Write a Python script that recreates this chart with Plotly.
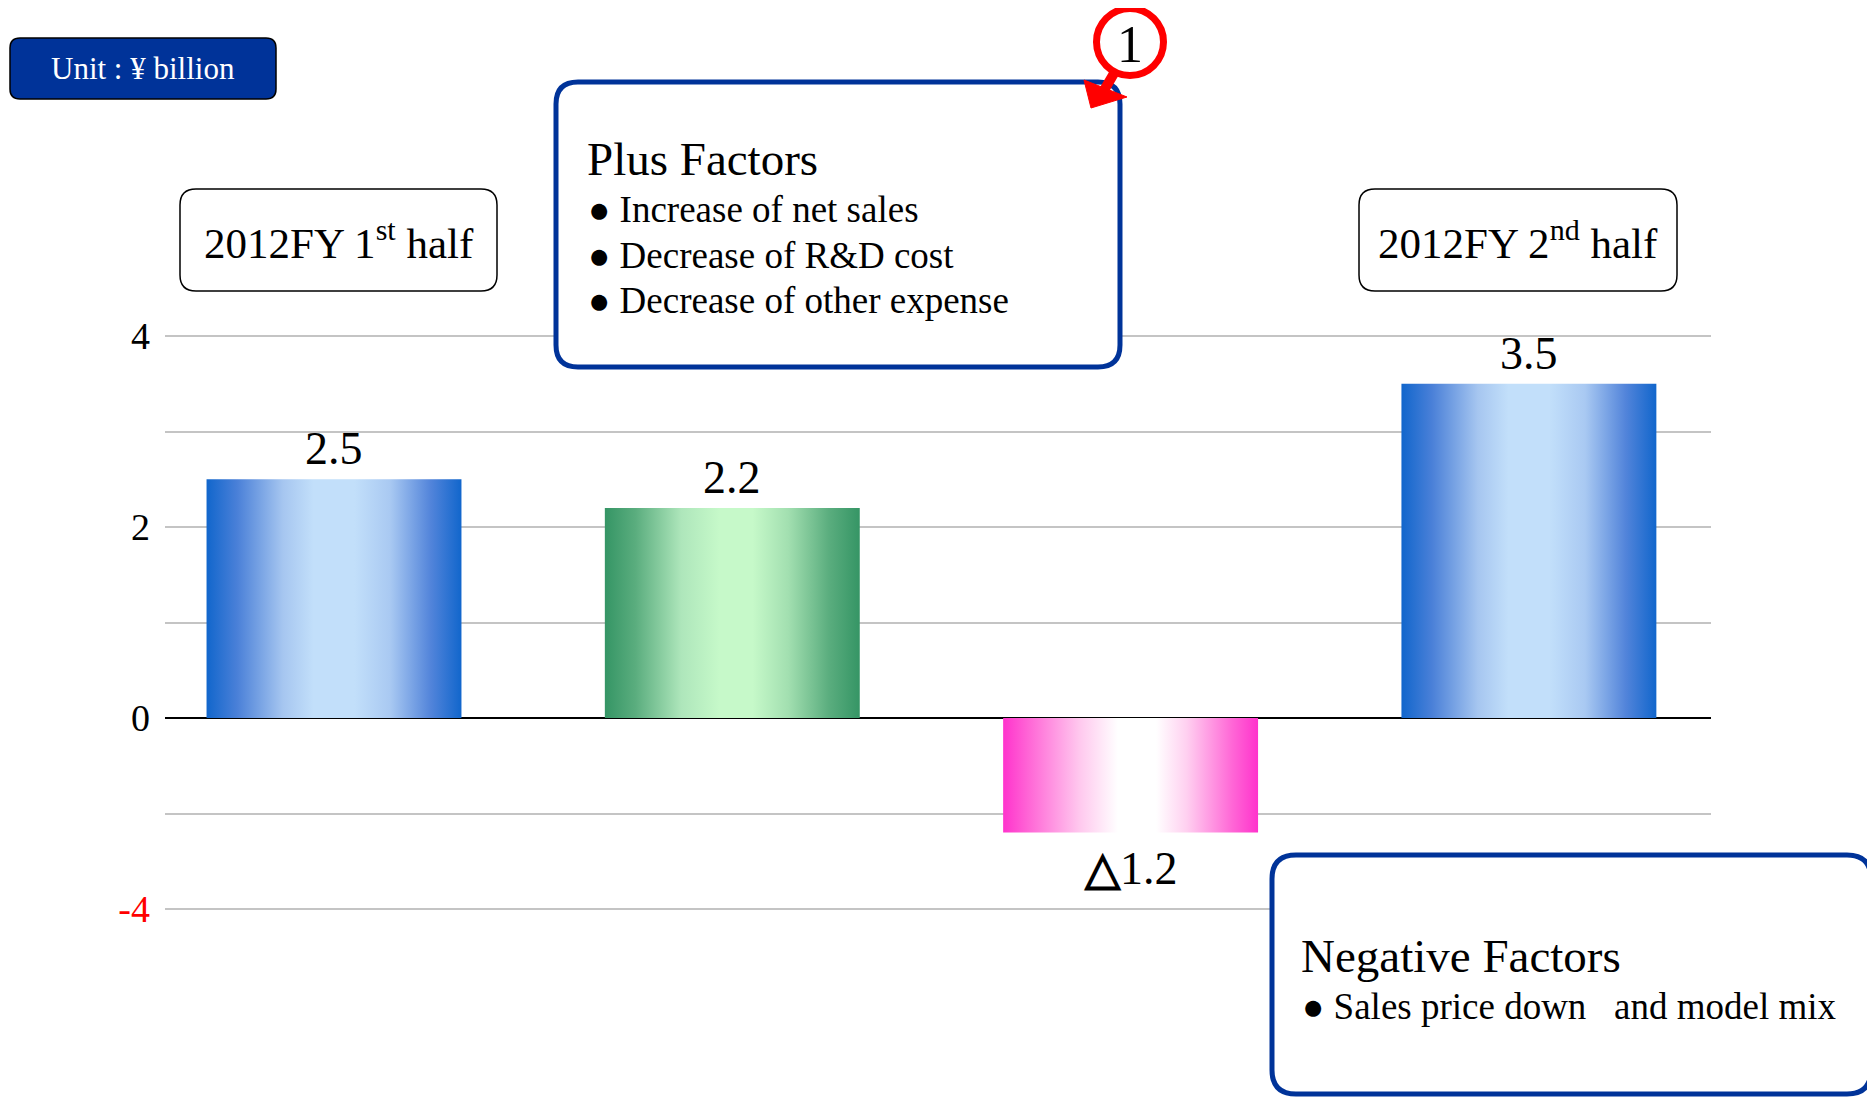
import plotly.graph_objects as go

# ---------------- data ----------------
categories = ["2012FY 1st half", "Plus factors", "Negative factors", "2012FY 2nd half"]
values = [2.5, 2.2, -1.2, 3.5]
tick_values = [-2, 0, 2, 4]
tick_labels = ["-4", "0", "2", "4"]
minor_grid_values = [-1, 1, 3]
plus_factors = ["Increase of net sales", "Decrease of R&D cost", "Decrease of other expense"]
negative_factors = ["Sales price down\u00a0\u00a0\u00a0and model mix"]

# ---------------- styles ----------------
FONT = "Liberation Serif, Times New Roman, serif"
BLUE_SCALE = [[0, '#1166cc'], [0.12, '#4a80d8'], [0.3, '#a6c6f0'], [0.42, '#c2dffa'],
              [0.58, '#c2dffa'], [0.72, '#a9c9f2'], [0.88, '#5284da'], [1, '#1166cc']]
GREEN_SCALE = [[0, '#359565'], [0.12, '#5aad7e'], [0.3, '#aee6bb'], [0.45, '#c6f9c9'],
               [0.58, '#c6f9c9'], [0.72, '#a2dfb0'], [0.88, '#5aad7e'], [1, '#359565']]
PINK_SCALE = [[0, '#ff33cc'], [0.1, '#ff66d6'], [0.3, '#ffc8ee'], [0.45, '#ffffff'],
              [0.6, '#ffffff'], [0.72, '#ffd0f0'], [0.9, '#ff66d6'], [1, '#ff33cc']]
bar_scales = [BLUE_SCALE, GREEN_SCALE, PINK_SCALE, BLUE_SCALE]
HALF_W = 0.32

W, H = 1875, 1097
OFF = 8                      # page body margin
L, T = 165, 231              # plot-area left/top in screen pixels
PW, PH = 1546, 774
ZERO_PX = 718
UNIT_PX = 95.5
X0_PX, XSTEP_PX = 334, 398.3

y_max = (ZERO_PX - T) / UNIT_PX
y_min = -(T + PH - ZERO_PX) / UNIT_PX
x_min = (L - X0_PX) / XSTEP_PX
x_max = (L + PW - X0_PX) / XSTEP_PX

m_l = L - OFF
m_t = T - OFF
m_r = W - m_l - PW
m_b = H - m_t - PH


def px(x):
    return (x - L) / PW


def py(y):
    return (T + PH - y) / PH


def rrect(x0, y0, x1, y1, r):
    pts = [
        ("M", [(x0 + r, y0)]), ("L", [(x1 - r, y0)]), ("Q", [(x1, y0), (x1, y0 + r)]),
        ("L", [(x1, y1 - r)]), ("Q", [(x1, y1), (x1 - r, y1)]), ("L", [(x0 + r, y1)]),
        ("Q", [(x0, y1), (x0, y1 - r)]), ("L", [(x0, y0 + r)]), ("Q", [(x0, y0), (x0 + r, y0)]),
    ]
    s = ""
    for cmd, ps in pts:
        s += cmd + " " + " ".join(f"{px(a):.5f},{py(b):.5f}" for a, b in ps) + " "
    return s + "Z"


def poly(points):
    return "M " + " L ".join(f"{px(a):.5f},{py(b):.5f}" for a, b in points) + " Z"


fig = go.Figure()

for i, (cat, v) in enumerate(zip(categories, values)):
    fig.add_trace(go.Scatter(
        x=[i - HALF_W, i - HALF_W, i + HALF_W, i + HALF_W, i - HALF_W],
        y=[0, v, v, 0, 0],
        mode="lines", fill="toself", line=dict(width=0),
        fillgradient=dict(type="horizontal", colorscale=bar_scales[i]),
        name=cat, hoverinfo="skip", showlegend=False,
    ))

annotations = []
for i, v in enumerate(values):
    label = f"{v}" if v >= 0 else f"<b>\u25b3</b>{abs(v)}"
    annotations.append(dict(
        x=i, y=v, xref="x", yref="y", text=label, showarrow=False,
        yanchor="bottom" if v >= 0 else "top", yshift=3 if v >= 0 else -8,
        font=dict(family=FONT, size=46, color="black"),
    ))

shapes = []
# Unit box
shapes.append(dict(type="path", xref="paper", yref="paper", path=rrect(10, 38, 276, 99, 10),
                   fillcolor="#003399", line=dict(color="black", width=1.5), layer="above"))
annotations.append(dict(x=px(143), y=py(68.5), xref="paper", yref="paper", text="Unit : ¥ billion",
                        showarrow=False, xanchor="center", yanchor="middle",
                        font=dict(family=FONT, size=31, color="white")))
# Half-year boxes
for (bx0, bx1), txt in [((180, 497), "2012FY 1<sup>st</sup> half"), ((1359, 1677), "2012FY 2<sup>nd</sup> half")]:
    shapes.append(dict(type="path", xref="paper", yref="paper", path=rrect(bx0, 189, bx1, 291, 16),
                       fillcolor="white", line=dict(color="black", width=1.5), layer="above"))
    annotations.append(dict(x=px((bx0 + bx1) / 2), y=py(240), xref="paper", yref="paper", text=txt,
                            showarrow=False, xanchor="center", yanchor="middle",
                            font=dict(family=FONT, size=43, color="black")))

# Plus factors box
shapes.append(dict(type="path", xref="paper", yref="paper", path=rrect(556, 82, 1120, 367, 22),
                   fillcolor="white", line=dict(color="#003399", width=5), layer="above"))
annotations.append(dict(x=px(585), y=py(158.5), xref="paper", yref="paper", text="Plus Factors",
                        showarrow=False, xanchor="left", yanchor="middle",
                        font=dict(family=FONT, size=47, color="black")))
for k, item in enumerate(plus_factors):
    annotations.append(dict(x=px(586), y=py(210 + 45 * k), xref="paper", yref="paper",
                            text="● " + item, showarrow=False, xanchor="left", yanchor="middle",
                            font=dict(family=FONT, size=37, color="black")))

# Negative factors box
shapes.append(dict(type="path", xref="paper", yref="paper", path=rrect(1272, 855, 1871, 1094, 24),
                   fillcolor="white", line=dict(color="#003399", width=5), layer="above"))
annotations.append(dict(x=px(1299), y=py(956), xref="paper", yref="paper", text="Negative Factors",
                        showarrow=False, xanchor="left", yanchor="middle",
                        font=dict(family=FONT, size=47, color="black")))
for k, item in enumerate(negative_factors):
    annotations.append(dict(x=px(1300), y=py(1006.5 + 45 * k), xref="paper", yref="paper",
                            text="● " + item, showarrow=False, xanchor="left", yanchor="middle",
                            font=dict(family=FONT, size=37, color="black")))

# Red circled "1" with arrow
shapes.append(dict(type="line", xref="paper", yref="paper", x0=px(1116), y0=py(70), x1=px(1103), y1=py(92),
                   line=dict(color="red", width=10), layer="above"))
shapes.append(dict(type="path", xref="paper", yref="paper",
                   path=poly([(1084, 80), (1127, 97), (1091, 108)]),
                   fillcolor="red", line=dict(color="red", width=1), layer="above"))
shapes.append(dict(type="circle", xref="paper", yref="paper",
                   x0=px(1130 - 33.5), x1=px(1130 + 33.5), y0=py(42 + 33.5), y1=py(42 - 33.5),
                   fillcolor="white", line=dict(color="red", width=7), layer="above"))
annotations.append(dict(x=px(1130), y=py(44), xref="paper", yref="paper", text="1",
                        showarrow=False, xanchor="center", yanchor="middle",
                        font=dict(family=FONT, size=52, color="black")))

ticktext = [f"<span style='color:red'>{t}</span>" if t.startswith("-") else t for t in tick_labels]

fig.update_layout(
    width=W, height=H,
    margin=dict(l=m_l, r=m_r, t=m_t, b=m_b, pad=0),
    paper_bgcolor="white", plot_bgcolor="white",
    showlegend=False,
    xaxis=dict(range=[x_min, x_max], showgrid=False, zeroline=False, showticklabels=False,
               showline=False, fixedrange=True),
    yaxis=dict(range=[y_min, y_max], tickvals=tick_values, ticktext=ticktext,
               showgrid=True, gridcolor="#c4c4c4", gridwidth=2,
               minor=dict(tickvals=minor_grid_values, showgrid=True, gridcolor="#c4c4c4",
                          gridwidth=2, ticks=""),
               zeroline=True, zerolinecolor="black", zerolinewidth=2,
               showline=False, ticks="", ticklabelstandoff=14,
               tickfont=dict(family=FONT, size=38, color="black")),
    shapes=shapes,
    annotations=annotations,
)

fig.write_html("out.html")
